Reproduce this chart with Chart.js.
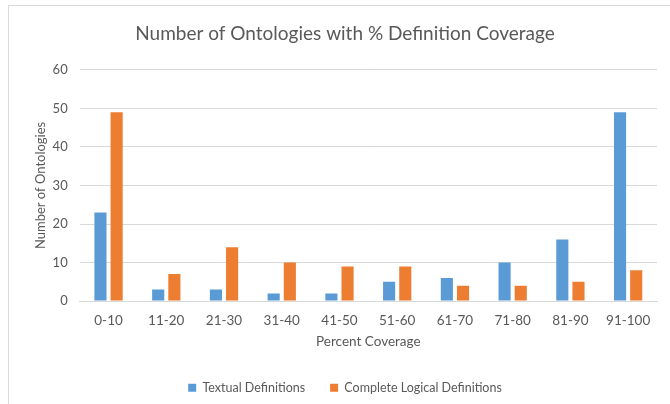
<!DOCTYPE html>
<html>
<head>
<meta charset="utf-8">
<script src="https://cdn.jsdelivr.net/npm/chart.js@4/dist/chart.umd.min.js"></script>
<style>
  html, body { margin: 0; padding: 0; background: #fff; }
  #wrap { position: relative; width: 670px; height: 404px; }
  #frame { position: absolute; left: 8px; top: 5px; width: 680px; height: 420px;
           border-left: 1px solid #d9d9d9; border-top: 1px solid #d9d9d9; }
  canvas { position: absolute; left: 0; top: 0; }
</style>
</head>
<body>
<div id="wrap">
  <div id="frame"></div>
  <canvas id="myChart" width="670" height="404"></canvas>
</div>
<script>
// categories + series
var ranges = ["0-10", "11-20", "21-30", "31-40", "41-50", "51-60", "61-70", "71-80", "81-90", "91-100"];
var textualDefs = [23, 3, 3, 2, 2, 5, 6, 10, 16, 49];
var logicalDefs = [49, 7, 14, 10, 9, 9, 4, 4, 5, 8];
var yTicks = [0, 10, 20, 30, 40, 50, 60];

var txt = "#595959";
var grid = "#d9d9d9";
Chart.defaults.font.family = "Lato, 'Noto Sans', sans-serif";
Chart.defaults.color = txt;

new Chart("myChart", {
  type: "bar",
  data: {
    labels: ranges,
    datasets: [{
      label: "Textual Definitions",
      backgroundColor: "#5b9bd5",
      data: textualDefs,
      categoryPercentage: 0.56,
      barPercentage: 0.75
    }, {
      label: "Complete Logical Definitions",
      backgroundColor: "#ed7d31",
      data: logicalDefs,
      categoryPercentage: 0.56,
      barPercentage: 0.75
    }]
  },
  options: {
    responsive: false,
    animation: false,
    layout: { padding: { left: 33, right: 13, top: 14, bottom: 0 } },
    plugins: {
      title: {
        display: true,
        text: "Number of Ontologies with % Definition Coverage",
        font: { size: 19, weight: "normal" },
        color: txt,
        padding: { top: 8, bottom: 25 }
      },
      legend: {
        position: "bottom",
        labels: { boxWidth: 8, boxHeight: 8, font: { size: 12.5 }, padding: 25 }
      },
      tooltip: { enabled: false }
    },
    scales: {
      x: {
        grid: { display: false, drawTicks: false },
        border: { color: grid },
        ticks: { font: { size: 13.5 }, padding: 11 },
        title: { display: true, text: "Percent Coverage", font: { size: 13.5 }, padding: { top: -6, bottom: 7 } }
      },
      y: {
        min: 0, max: 60,
        afterBuildTicks: function (s) { s.ticks = yTicks.map(function (v) { return { value: v }; }); },
        grid: { color: grid, drawTicks: false },
        border: { display: false },
        ticks: { font: { size: 13 }, padding: 12 },
        title: { display: true, text: "Number of Ontologies", font: { size: 13 }, padding: { top: 0, bottom: -8 } }
      }
    }
  }
});
</script>
</body>
</html>
